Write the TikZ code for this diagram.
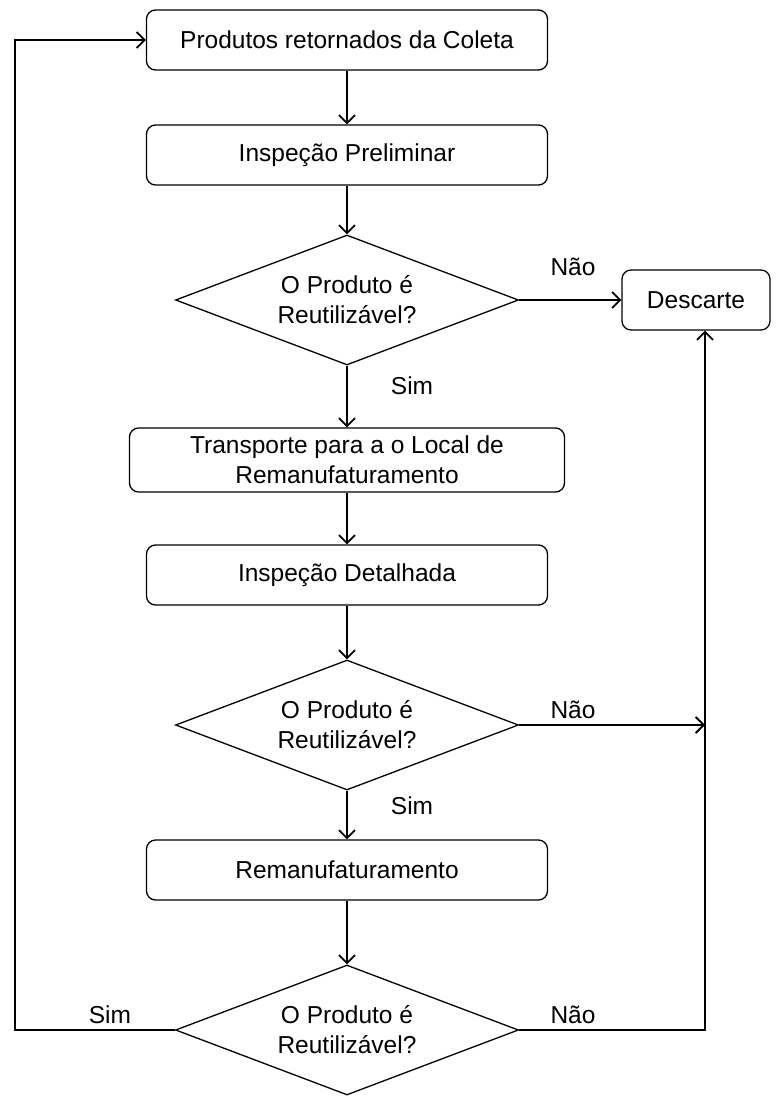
\documentclass[tikz,border=0pt]{standalone}
\usepackage{fontspec}
\setmainfont{Liberation Sans}
\usetikzlibrary{shapes.geometric,arrows.meta}
\begin{document}
\begin{tikzpicture}[x=1pt,y=-1pt,
  every node/.style={font=\fontsize{24.5}{30}\selectfont},
  procbox/.style={draw, line width=1.3pt, rounded corners=9pt, minimum width=401pt, minimum height=60pt, align=center, inner sep=0pt},
  decis/.style={draw, line width=1.3pt, diamond, aspect=2.64, minimum width=343pt, minimum height=130pt, align=center, inner sep=0pt},
  conn/.style={line width=1.4pt, -{Straight Barb[length=8pt,width=16pt,line width=1.8pt]}},
  lbl/.style={inner sep=0pt}]
\useasboundingbox (0,0) rectangle (777,1097);
\node[procbox] (b1) at (347,40) {Produtos retornados da Coleta};
\node[procbox] (b2) at (347,155) {Inspeção Preliminar};
\node[decis] (d1) at (347,300) {O Produto é\\Reutilizável?};
\node[procbox, minimum width=148pt] (desc) at (696,300) {Descarte};
\node[procbox, minimum width=435pt, minimum height=64pt, align=center] (b3) at (347,460) {Transporte para a o Local de\\Remanufaturamento};
\node[procbox] (b4) at (347,575) {Inspeção Detalhada};
\node[decis] (d2) at (347,725) {O Produto é\\Reutilizável?};
\node[procbox] (b5) at (347,870) {Remanufaturamento};
\node[decis] (d3) at (347,1030) {O Produto é\\Reutilizável?};
\coordinate (rj) at (705,725);
\coordinate (rb) at (705,1030);
\coordinate (lb) at (15,1030);
\coordinate (lt) at (15,40);

\draw[conn] (b1.south) -- (b2.north);
\draw[conn] (b2.south) -- (d1.north);
\draw[conn] (d1.east) -- (desc.west);
\draw[conn] (d1.south) -- (b3.north);
\draw[conn] (b3.south) -- (b4.north);
\draw[conn] (b4.south) -- (d2.north);
\draw[conn] (d2.east) -- (rj);
\draw[conn] (d2.south) -- (b5.north);
\draw[conn] (b5.south) -- (d3.north);
\draw[conn] (d3.west) -- (lb) -- (lt) -- (b1.west);
\draw[conn] (d3.east) -- (rb) -- (rb |- desc.south);

\node[lbl] (n1) at (573,267) {Não};
\node[lbl] (s1) at (412,386) {Sim};
\node[lbl] (n2) at (573,710) {Não};
\node[lbl] (s2) at (412,806) {Sim};
\node[lbl] (s3) at (110,1015) {Sim};
\node[lbl] (n3) at (573,1015) {Não};
\end{tikzpicture}
\end{document}
